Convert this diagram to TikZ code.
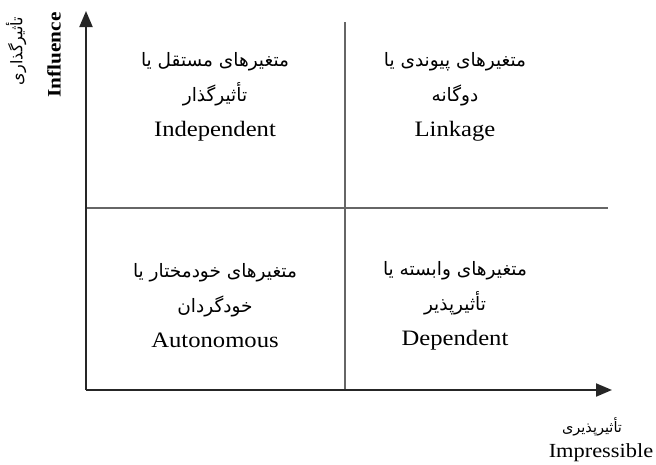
\documentclass[tikz,border=0pt]{standalone}
\usepackage{fontspec}
\setmainfont{Liberation Serif}[FakeStretch=1.12]
\newfontfamily\fa[Script=Arabic]{DejaVu Sans}
\TeXXeTstate=1
\usetikzlibrary{arrows.meta}
\newcommand{\fatext}[1]{{\fa\beginR #1\endR}}
\newcommand{\faq}[1]{{\fontsize{18.5}{35}\fa\beginR #1\endR}}
\tikzset{
  axis/.style={line width=2pt, draw=black!85, -{Triangle[length=16pt,width=13pt]}},
  divider/.style={line width=1.3pt, draw=black!60},
  quad/.style={align=center, inner sep=0pt, font=\fontsize{22}{35}\selectfont},
  axlabel/.style={inner sep=0pt, font=\fontsize{19}{22}\selectfont},
}
\begin{document}
\begin{tikzpicture}[x=1pt,y=-1pt]
\useasboundingbox (0,0) rectangle (656,464);
\coordinate (O) at (86,390);
\coordinate (ytip) at (86,11);
\coordinate (xtip) at (612,390);
\coordinate (vtop) at (345,22);
\coordinate (vbot) at (345,390);
\coordinate (hl) at (86,208);
\coordinate (hr) at (608,208);
\draw[divider] (vtop) -- (vbot);
\draw[divider] (hl) -- (hr);
\draw[axis] (O) -- (ytip);
\draw[axis] (O) -- (xtip);
\node[quad] (tl) at (215,97) {\faq{متغیرهای مستقل یا}\\\faq{تأثیرگذار}\\Independent};
\node[quad] (tr) at (455,97) {\faq{متغیرهای پیوندی یا}\\\faq{دوگانه}\\Linkage};
\node[quad] (bl) at (215,306) {\faq{متغیرهای خودمختار یا}\\\faq{خودگردان}\\Autonomous};
\node[quad] (br) at (455,306) {\faq{متغیرهای وابسته یا}\\\faq{تأثیرپذیر}\\Dependent};
\node[axlabel, rotate=90, font=\fontsize{16}{20}\selectfont] (yfa) at (16,51) {\fatext{تأثیرگذاری}};
\node[axlabel, rotate=90, font=\fontsize{19}{22}\selectfont\bfseries] (yen) at (54,55) {Influence};
\node[axlabel, font=\fontsize{14.5}{20}\selectfont] (xfa) at (592,427) {\fatext{تأثیرپذیری}};
\node[axlabel, font=\fontsize{20}{22}\selectfont] (xen) at (601,453) {Impressible};
\end{tikzpicture}
\end{document}
